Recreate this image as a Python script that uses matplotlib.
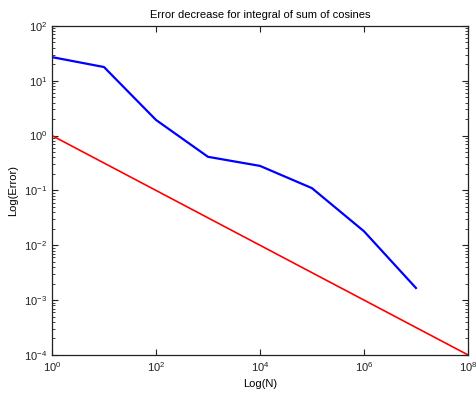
import matplotlib
matplotlib.use('Agg')
import matplotlib.pyplot as plt
from matplotlib.ticker import LogLocator, NullLocator

plt.rcParams['font.family'] = ['Liberation Sans', 'DejaVu Sans']
plt.rcParams['mathtext.default'] = 'regular'

# number of sample points and the resulting integration error
n_vals = [1e0, 1e1, 1e2, 1e3, 1e4, 1e5, 1e6, 1e7]
err_vals = [27.0, 17.8, 1.93, 0.41, 0.28, 0.11, 0.018, 0.00166]

# reference slope 1/sqrt(N)
ref_n = [1e0, 1e1, 1e2, 1e3, 1e4, 1e5, 1e6, 1e7, 1e8]
ref_err = [1.0, 0.316, 0.1, 0.0316, 0.01, 0.00316, 0.001, 0.000316, 0.0001]

fig = plt.figure(figsize=(4.77, 3.93), dpi=100)
ax = fig.add_axes([0.109, 0.097, 0.872, 0.837])

ax.loglog(n_vals, err_vals, color='#0000ff', lw=1.6)
ax.loglog(ref_n, ref_err, color='#ff0000', lw=1.2)

ax.set_xlim(1e0, 1e8)
ax.set_ylim(1e-4, 1e2)

ax.xaxis.set_major_locator(LogLocator(base=100))
ax.xaxis.set_minor_locator(NullLocator())
ax.yaxis.set_major_locator(LogLocator(base=10, numticks=10))
ax.yaxis.set_minor_locator(LogLocator(base=10, subs=range(2, 10), numticks=20))

ax.tick_params(which='both', direction='in', top=True, right=True,
               labelsize=8, colors='#222222')
ax.tick_params(which='major', length=4, width=0.8)
ax.tick_params(which='minor', length=2, width=0.6)
for sp in ax.spines.values():
    sp.set_linewidth(0.9)
    sp.set_color('#222222')

ax.set_title('Error decrease for integral of sum of cosines', fontsize=8, pad=6)
ax.set_xlabel('Log(N)', fontsize=8, labelpad=4)
ax.set_ylabel('Log(Error)', fontsize=8, labelpad=4)

fig.savefig('out.png', dpi=100)
